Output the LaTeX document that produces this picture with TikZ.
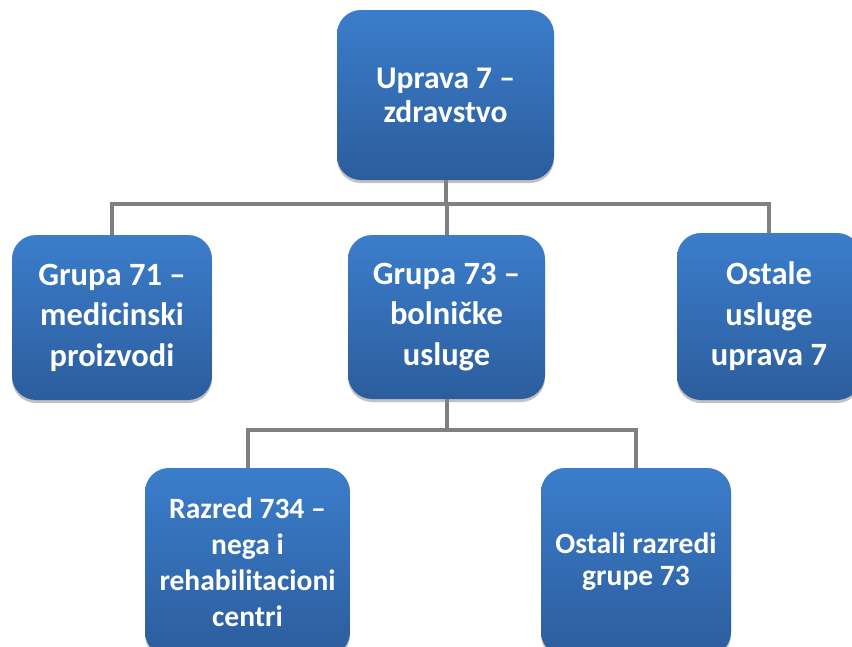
\documentclass[tikz,border=0pt]{standalone}
\usepackage{fontspec}
\setmainfont{Carlito}
\usetikzlibrary{shadows}
\definecolor{boxtop}{HTML}{3B7DCB}
\definecolor{boxbot}{HTML}{2C5D9D}
\definecolor{linkgray}{HTML}{808080}
\tikzset{
	unit/.style={rounded corners=24pt,top color=boxtop,bottom color=boxbot,text=white,
		align=center,inner sep=0pt,
		drop shadow={shadow xshift=0pt,shadow yshift=-3pt,opacity=0.35,fill=black!70}},
	link/.style={draw=linkgray,line width=4pt},
}
\begin{document}
\begin{tikzpicture}[x=1pt,y=-1pt]
			\useasboundingbox (0,0) rectangle (852,646);
			
			% Boxes
			\node[unit,minimum width=217,minimum height=170,font=\fontsize{31.5}{34}\selectfont\bfseries]
			(uprava) at (445.5,95) {Uprava 7 --\\zdravstvo};
			\node[unit,minimum width=200,minimum height=165,font=\fontsize{32.5}{40.5}\selectfont\bfseries]
			(grupa71) at (112,317.5) {Grupa 71 --\\medicinski\\proizvodi};
			\node[unit,minimum width=197,minimum height=164,font=\fontsize{32.5}{40.5}\selectfont\bfseries]
			(grupa73) at (446.5,317) {Grupa 73 --\\bolničke\\usluge};
			\node[unit,minimum width=184,minimum height=167,font=\fontsize{32.5}{40.5}\selectfont\bfseries]
			(ostale) at (769,316.5) {Ostale\\usluge\\uprava 7};
			\node[unit,minimum width=205,minimum height=188,font=\fontsize{29.5}{36}\selectfont\bfseries]
			(razred734) at (247.5,562) {Razred 734 --\\nega i\\rehabilitacioni\\centri};
			\node[unit,minimum width=190,minimum height=188,font=\fontsize{29.5}{32}\selectfont\bfseries]
			(ostalirazredi) at (636,562) {Ostali razredi\\grupe 73};
			
			% Connectors, level 1
			\draw[link] (uprava.south) -- ++(0,24) -| (grupa71.north);
			\draw[link] (uprava.south) -- ++(0,24) -| (grupa73.north);
			\draw[link] (uprava.south) -- ++(0,24) -| (ostale.north);
			
			% Connectors, level 2
			\draw[link] (grupa73.south) -- ++(0,31) -| (razred734.north);
			\draw[link] (grupa73.south) -- ++(0,31) -| (ostalirazredi.north);
		\end{tikzpicture}
\end{document}
